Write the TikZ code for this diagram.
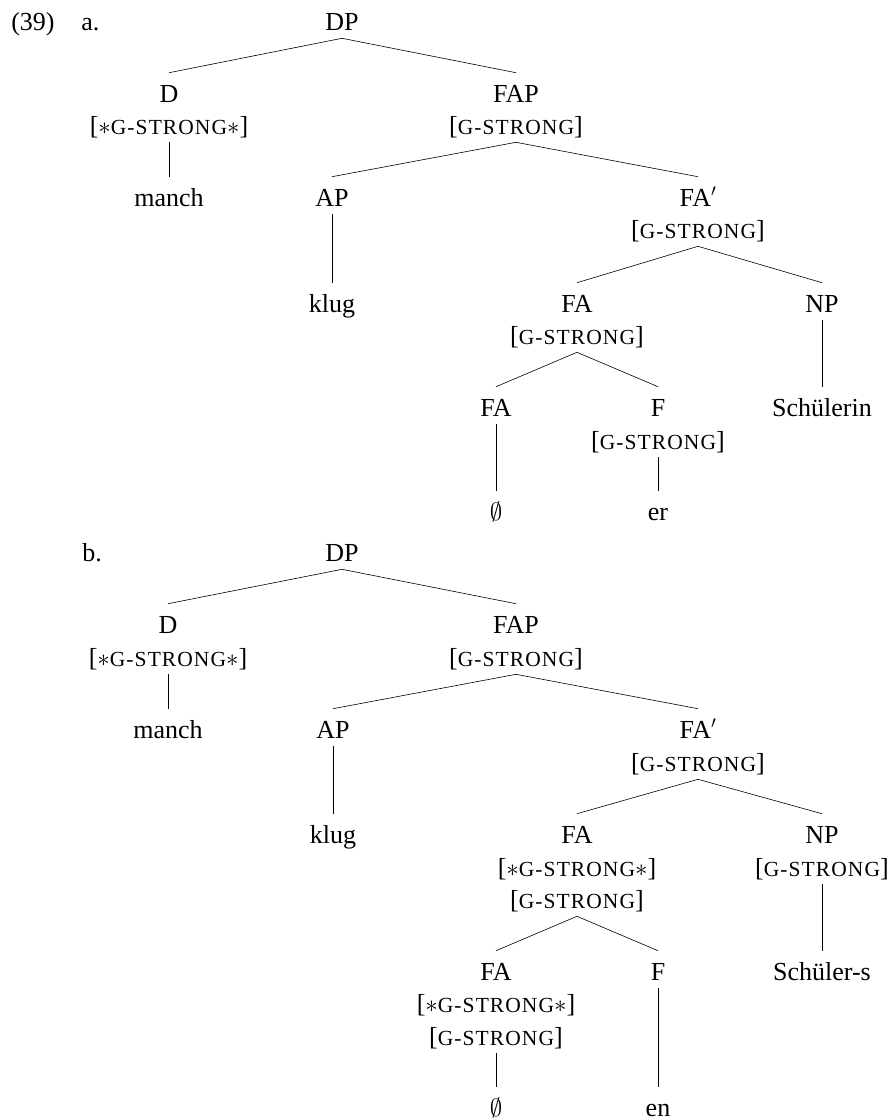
\documentclass[tikz,border=0pt]{standalone}
\usepackage{fontspec}
\setmainfont{Liberation Serif}
\newfontfamily\featfont[LetterSpace=5]{Liberation Serif}
\newcommand{\gstrong}{{\featfont\fontsize{21.5}{24}\selectfont G-STRONG}}
\newcommand{\feat}{[\gstrong]}
\newcommand{\starfeat}{[$\ast$\gstrong$\ast$]}
\begin{document}
\begin{tikzpicture}[x=1pt,y=-1pt,line width=0.6pt,
  lab/.style={anchor=base,inner sep=0pt,text height=29pt,text depth=8pt,
    font=\fontsize{26}{30}\selectfont},
  num/.style={anchor=base west,inner sep=0pt,font=\fontsize{26}{30}\selectfont}]
\useasboundingbox (0,0) rectangle (893,1120);

% example number and sub-labels
\node[num] (ex) at (11,30) {(39)};
\node[num] (la) at (81,30) {a.};
\node[num] (lb) at (82,561) {b.};

% ---------- tree a ----------
\node[lab] (aDP) at (342,30) {DP};
\node[lab] (aD) at (169,102) {D};
\node[lab] (aDf) at (169,134) {\starfeat};
\node[lab] (amanch) at (169,206) {manch};
\node[lab] (aFAP) at (516,102) {FAP};
\node[lab] (aFAPf) at (516,134) {\feat};
\node[lab] (aAP) at (332,206) {AP};
\node[lab] (aklug) at (332,312) {klug};
\node[lab] (aFAb) at (698,206) {FA$'$};
\node[lab] (aFAbf) at (698,238) {\feat};
\node[lab] (aFA) at (577,312) {FA};
\node[lab] (aFAf) at (577,344) {\feat};
\node[lab] (aNP) at (822,312) {NP};
\node[lab] (aSch) at (822,416) {Schülerin};
\node[lab] (aFA0) at (496,416) {FA};
\node[lab] (aF) at (658,416) {F};
\node[lab] (aFf) at (658,449) {\feat};
\node[lab] (aemp) at (496,520) {$\emptyset$};
\node[lab] (aer) at (658,520) {er};

\draw (aDP.south) -- (aD.north);
\draw (aDP.south) -- (aFAP.north);
\draw (aDf.south) -- (amanch.north);
\draw (aFAPf.south) -- (aAP.north);
\draw (aFAPf.south) -- (aFAb.north);
\draw (aAP.south) -- (aklug.north);
\draw (aFAbf.south) -- (aFA.north);
\draw (aFAbf.south) -- (aNP.north);
\draw (aFAf.south) -- (aFA0.north);
\draw (aFAf.south) -- (aF.north);
\draw (aNP.south) -- (aSch.north);
\draw (aFA0.south) -- (aemp.north);
\draw (aFf.south) -- (aer.north);

% ---------- tree b ----------
\node[lab] (bDP) at (342,561) {DP};
\node[lab] (bD) at (168,633) {D};
\node[lab] (bDf) at (168,666) {\starfeat};
\node[lab] (bmanch) at (168,738) {manch};
\node[lab] (bFAP) at (516,633) {FAP};
\node[lab] (bFAPf) at (516,666) {\feat};
\node[lab] (bAP) at (333,738) {AP};
\node[lab] (bklug) at (333,843) {klug};
\node[lab] (bFAb) at (698,738) {FA$'$};
\node[lab] (bFAbf) at (698,771) {\feat};
\node[lab] (bFA) at (577,843) {FA};
\node[lab] (bFAf1) at (577,876) {\starfeat};
\node[lab] (bFAf2) at (577,908) {\feat};
\node[lab] (bNP) at (822,843) {NP};
\node[lab] (bNPf) at (822,876) {\feat};
\node[lab] (bSch) at (822,980) {Schüler-s};
\node[lab] (bFA0) at (496,980) {FA};
\node[lab] (bFA0f1) at (496,1012) {\starfeat};
\node[lab] (bFA0f2) at (496,1045) {\feat};
\node[lab] (bF) at (658,980) {F};
\node[lab] (bemp) at (496,1116) {$\emptyset$};
\node[lab] (ben) at (658,1116) {en};

\draw (bDP.south) -- (bD.north);
\draw (bDP.south) -- (bFAP.north);
\draw (bDf.south) -- (bmanch.north);
\draw (bFAPf.south) -- (bAP.north);
\draw (bFAPf.south) -- (bFAb.north);
\draw (bAP.south) -- (bklug.north);
\draw (bFAbf.south) -- (bFA.north);
\draw (bFAbf.south) -- (bNP.north);
\draw (bFAf2.south) -- (bFA0.north);
\draw (bFAf2.south) -- (bF.north);
\draw (bNPf.south) -- (bSch.north);
\draw (bFA0f2.south) -- (bemp.north);
\draw (bF.south) -- (ben.north);
\end{tikzpicture}
\end{document}
